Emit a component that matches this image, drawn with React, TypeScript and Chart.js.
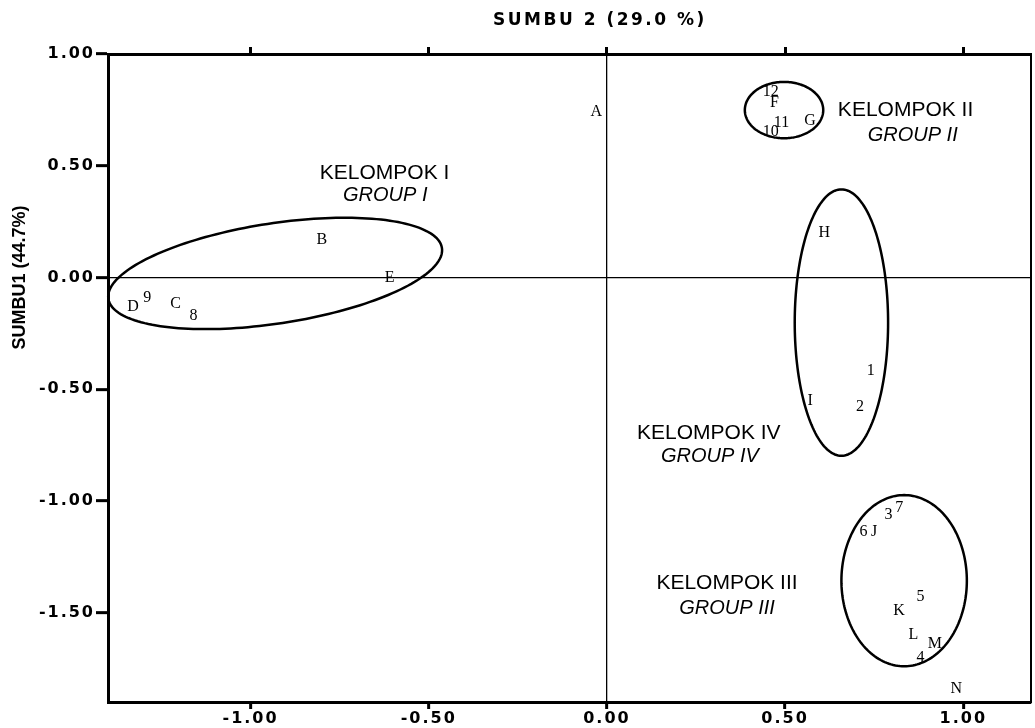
import React, { useEffect, useRef } from 'react';
import { Chart, registerables } from 'chart.js';

Chart.register(...registerables);

const xTitle = 'SUMBU 2 (29.0 %)';
const yTitle = 'SUMBU1 (44.7%)';
const xMin = -1.4;
const xMax = 1.19;
const yMin = -1.9;
const yMax = 1.0;
const tickStep = 0.5;

const pointLabels = ['A', '12', 'F', '11', 'G', '10', 'B', 'E', 'D', '9', 'C', '8', 'H', '1', 'I', '2', '6', 'J', '3', '7', '5', 'K', 'L', 'M', '4', 'N'];
const pointX = [-0.03, 0.46, 0.47, 0.49, 0.57, 0.46, -0.80, -0.61, -1.33, -1.29, -1.21, -1.16, 0.61, 0.74, 0.57, 0.71, 0.72, 0.75, 0.79, 0.82, 0.88, 0.82, 0.86, 0.92, 0.88, 0.98];
const pointY = [0.74, 0.83, 0.78, 0.69, 0.70, 0.65, 0.17, 0.00, -0.13, -0.09, -0.12, -0.17, 0.20, -0.42, -0.55, -0.58, -1.14, -1.14, -1.06, -1.03, -1.43, -1.49, -1.60, -1.64, -1.70, -1.84];

// ellipses: centre and two conjugate semi-axis vectors, in data units
const ellipseCX = [-0.931, 0.497, 0.658, 0.834];
const ellipseCY = [0.018, 0.749, -0.202, -1.357];
const ellipseUX = [0.468, 0.11, 0.131, 0.176];
const ellipseUY = [0.114, 0, 0, 0];
const ellipseVX = [0.0213, 0, 0, 0];
const ellipseVY = [-0.2216, 0.126, 0.596, 0.383];

const groupNames = ['KELOMPOK I', 'KELOMPOK II', 'KELOMPOK IV', 'KELOMPOK III'];
const groupNamesEn = ['GROUP I', 'GROUP II', 'GROUP IV', 'GROUP III'];
const groupNameX = [-0.624, 0.838, 0.286, 0.337];
const groupNameY = [0.466, 0.749, -0.695, -1.368];
const groupNameEnX = [-0.622, 0.858, 0.289, 0.337];
const groupNameEnY = [0.368, 0.637, -0.803, -1.48];

const tickFont = { family: 'DejaVu Sans', size: 16, weight: 'bold' as const };
const zeroColor = (c: any) => (c.tick && c.tick.value === 0 ? '#000' : 'rgba(0,0,0,0)');

const overlay = {
  id: 'overlay',
  beforeDraw(chart: any) {
    chart.ctx.letterSpacing = '2px';
  },
  beforeDatasetsDraw(chart: any) {
    chart.ctx.letterSpacing = '0px';
  },
  afterDatasetsDraw(chart: any) {
    const { ctx, chartArea, scales } = chart;
    const xs = scales.x;
    const ys = scales.y;
    ctx.save();
    ctx.letterSpacing = '0px';
    ctx.strokeStyle = '#000';
    ctx.fillStyle = '#000';

    // right border
    ctx.lineWidth = 2;
    ctx.beginPath();
    ctx.moveTo(chartArea.right, chartArea.top - 1);
    ctx.lineTo(chartArea.right, chartArea.bottom + 1);
    ctx.stroke();

    // ellipses
    ctx.lineWidth = 2.5;
    for (let i = 0; i < ellipseCX.length; i++) {
      const cx = xs.getPixelForValue(ellipseCX[i]);
      const cy = ys.getPixelForValue(ellipseCY[i]);
      const ux = xs.getPixelForValue(ellipseCX[i] + ellipseUX[i]) - cx;
      const uy = ys.getPixelForValue(ellipseCY[i] + ellipseUY[i]) - cy;
      const vx = xs.getPixelForValue(ellipseCX[i] + ellipseVX[i]) - cx;
      const vy = ys.getPixelForValue(ellipseCY[i] + ellipseVY[i]) - cy;
      ctx.beginPath();
      for (let k = 0; k <= 180; k++) {
        const t = (k / 180) * Math.PI * 2;
        const px = cx + ux * Math.cos(t) + vx * Math.sin(t);
        const py = cy + uy * Math.cos(t) + vy * Math.sin(t);
        if (k === 0) ctx.moveTo(px, py);
        else ctx.lineTo(px, py);
      }
      ctx.closePath();
      ctx.stroke();
    }

    // point labels
    ctx.font = '16px "Liberation Serif"';
    ctx.textAlign = 'center';
    ctx.textBaseline = 'middle';
    const meta = chart.getDatasetMeta(0);
    meta.data.forEach((el: any, i: number) => {
      ctx.fillText(pointLabels[i], el.x, el.y);
    });

    // group labels
    for (let i = 0; i < groupNames.length; i++) {
      ctx.font = '21px "Liberation Sans"';
      ctx.fillText(groupNames[i], xs.getPixelForValue(groupNameX[i]), ys.getPixelForValue(groupNameY[i]));
      ctx.font = 'italic 20px "Liberation Sans"';
      ctx.fillText(groupNamesEn[i], xs.getPixelForValue(groupNameEnX[i]), ys.getPixelForValue(groupNameEnY[i]));
    }

    // axis titles
    ctx.font = 'bold 17px "DejaVu Sans"';
    ctx.letterSpacing = '2.5px';
    ctx.fillText(xTitle, xs.getPixelForValue(0) - 7, 21);
    ctx.letterSpacing = '0px';
    ctx.save();
    ctx.translate(20, ys.getPixelForValue(0));
    ctx.rotate(-Math.PI / 2);
    ctx.font = 'bold 18px "Liberation Sans"';
    ctx.fillText(yTitle, 0, 0);
    ctx.restore();

    ctx.restore();
  },
};

export default function App() {
  const canvasRef = useRef<HTMLCanvasElement | null>(null);

  useEffect(() => {
    if (!canvasRef.current) return;
    const chart = new Chart(canvasRef.current, {
      type: 'scatter',
      data: {
        datasets: [
          {
            data: pointX.map((x, i) => ({ x, y: pointY[i] })),
            pointRadius: 0,
            pointHoverRadius: 0,
            xAxisID: 'x',
            yAxisID: 'y',
          },
        ],
      },
      options: {
        responsive: false,
        devicePixelRatio: 1,
        animation: false,
        events: [],
        layout: { padding: { left: 0, right: 4, top: 0, bottom: 0 } },
        plugins: { legend: { display: false }, tooltip: { enabled: false } },
        scales: {
          x: {
            type: 'linear',
            position: 'bottom',
            min: xMin,
            max: xMax,
            ticks: {
              stepSize: tickStep,
              includeBounds: false,
              autoSkip: false,
              maxRotation: 0,
              padding: 0,
              color: '#000',
              font: tickFont,
              callback: (v: any) => Number(v).toFixed(2),
            },
            grid: {
              color: zeroColor,
              lineWidth: 1.3,
              tickColor: '#000',
              tickWidth: 3,
              tickLength: 7,
            },
            border: { display: true, color: '#000', width: 3 },
            afterFit: (s: any) => {
              s.height = 26;
            },
          },
          x2: {
            type: 'linear',
            axis: 'x',
            position: 'top',
            min: xMin,
            max: xMax,
            ticks: { stepSize: tickStep, includeBounds: false, display: false },
            grid: { drawOnChartArea: false, tickColor: '#000', tickWidth: 3, tickLength: 7 },
            border: { display: true, color: '#000', width: 3 },
            afterFit: (s: any) => {
              s.height = 54;
            },
          },
          y: {
            type: 'linear',
            position: 'left',
            min: yMin,
            max: yMax,
            ticks: {
              stepSize: tickStep,
              includeBounds: false,
              autoSkip: false,
              padding: 1,
              color: '#000',
              font: tickFont,
              callback: (v: any) => Number(v).toFixed(2),
            },
            grid: {
              color: zeroColor,
              lineWidth: 1.3,
              tickColor: '#000',
              tickWidth: 3,
              tickLength: 12,
            },
            border: { display: true, color: '#000', width: 3 },
            afterFit: (s: any) => {
              s.width = 108;
            },
          },
        },
      } as any,
      plugins: [overlay],
    });
    return () => chart.destroy();
  }, []);

  return (
    <div style={{ position: 'absolute', left: 0, top: 0, width: 1035, height: 728, background: '#fff' }}>
      <canvas ref={canvasRef} width={1035} height={728} />
    </div>
  );
}
